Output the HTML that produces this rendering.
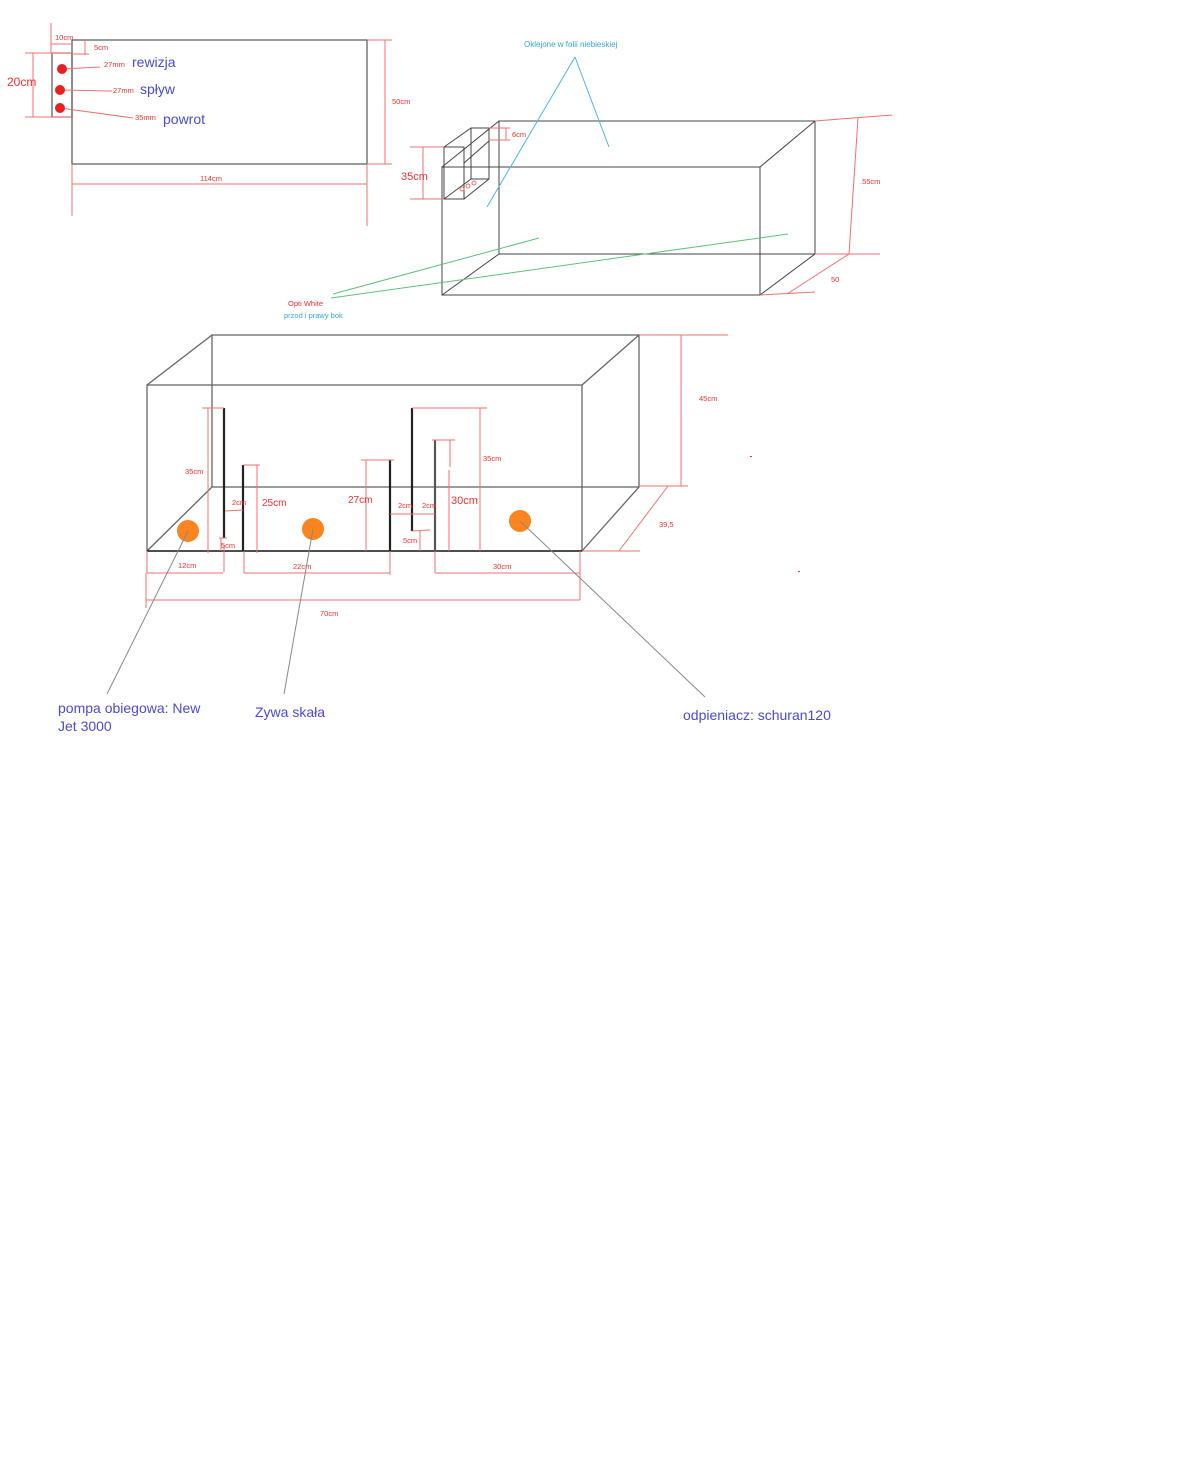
<!DOCTYPE html>
<html><head><meta charset="utf-8"><style>
html,body{margin:0;padding:0;background:#fff;}
svg{display:block;}
text{font-family:"Liberation Sans",sans-serif;}
.r{fill:#f03030;font-size:7.5px;}
.b{fill:#4a4ad8;font-size:14px;}
</style></head><body>
<svg width="1200" height="1482" viewBox="0 0 1200 1482" xmlns="http://www.w3.org/2000/svg">
<g fill="none" stroke="#555" stroke-width="1.2">
<rect x="72" y="40" width="295" height="124"/>
<rect x="52" y="53" width="20" height="64"/>
</g>
<g stroke="#f27070" stroke-width="1" fill="none">
<line x1="72" y1="164" x2="72" y2="216"/>
<line x1="367" y1="164" x2="367" y2="226"/>
<line x1="72" y1="184" x2="367" y2="184"/>
<line x1="385" y1="40" x2="385" y2="164"/>
<line x1="367" y1="40" x2="392" y2="40"/>
<line x1="367" y1="164" x2="392" y2="164"/>
<line x1="33" y1="53" x2="33" y2="117"/>
<line x1="25" y1="53" x2="72" y2="53"/>
<line x1="25" y1="117" x2="72" y2="117"/>
<line x1="51" y1="23" x2="51" y2="53"/>
<line x1="51" y1="44" x2="72" y2="44"/>
<line x1="85" y1="40" x2="85" y2="55"/>
<line x1="72" y1="54" x2="89" y2="54"/>
<line x1="62" y1="69" x2="100" y2="67"/>
<line x1="60" y1="90" x2="112" y2="91"/>
<line x1="60" y1="108" x2="133" y2="118"/>
</g>
<g fill="#e82020"><circle cx="62" cy="69" r="5"/><circle cx="60" cy="90" r="5"/><circle cx="60" cy="108" r="5"/></g>
<text class="r" x="55" y="40">10cm</text>
<text class="r" x="94" y="50">5cm</text>
<text class="r" x="7" y="86" style="font-size:12px">20cm</text>
<text class="r" x="104" y="67">27mm</text>
<text class="r" x="113" y="93">27mm</text>
<text class="r" x="135" y="120">35mm</text>
<text class="b" x="132" y="67">rewizja</text>
<text class="b" x="140" y="94">spływ</text>
<text class="b" x="163" y="124">powrot</text>
<text class="r" x="200" y="181">114cm</text>
<text class="r" x="392" y="104">50cm</text>

<g fill="none" stroke="#444" stroke-width="1">
<rect x="499" y="121" width="316" height="133"/>
<rect x="442" y="167" width="318" height="128"/>
<line x1="442" y1="167" x2="499" y2="121"/>
<line x1="760" y1="167" x2="815" y2="121"/>
<line x1="760" y1="295" x2="815" y2="254"/>
<line x1="442" y1="295" x2="499" y2="254"/>
<rect x="444" y="147" width="20" height="52"/>
<rect x="471" y="128" width="18" height="51"/>
<line x1="444" y1="147" x2="471" y2="128"/>
<line x1="464" y1="163" x2="489" y2="141"/>
<line x1="464" y1="199" x2="489" y2="179"/>
<line x1="444" y1="199" x2="471" y2="179"/>
</g>
<g stroke="#f27070" stroke-width="1" fill="none">
<line x1="489" y1="128" x2="510" y2="128"/>
<line x1="489" y1="140" x2="510" y2="140"/>
<line x1="506" y1="128" x2="506" y2="140"/>
<line x1="410" y1="147" x2="444" y2="147"/>
<line x1="410" y1="199" x2="444" y2="199"/>
<line x1="423" y1="147" x2="423" y2="199"/>
<line x1="815" y1="121" x2="892" y2="115"/>
<line x1="858" y1="118" x2="849" y2="254"/>
<line x1="815" y1="254" x2="880" y2="254"/>
<line x1="849" y1="254" x2="787" y2="294"/>
<line x1="760" y1="295" x2="815" y2="292"/>
<circle cx="462" cy="189" r="2"/><circle cx="468" cy="186" r="2"/><circle cx="474" cy="183" r="2"/>
</g>
<text class="r" x="512" y="137">6cm</text>
<text class="r" x="401" y="180" style="font-size:11px">35cm</text>
<text class="r" x="860" y="184">.55cm</text>
<text class="r" x="831" y="282">50</text>
<g stroke="#4bb8e8" stroke-width="1"><line x1="575" y1="57" x2="487" y2="207"/><line x1="575" y1="57" x2="609" y2="147"/></g>
<text x="524" y="47" style="fill:#33a6e0;font-size:8px">Oklejone w folii niebieskiej</text>
<g stroke="#5ec27a" stroke-width="1"><line x1="333" y1="294" x2="539" y2="238"/><line x1="331" y1="298" x2="788" y2="234"/></g>
<text class="r" x="288" y="306">Opti White</text>
<text x="284" y="318" style="fill:#33a6e0;font-size:7.5px">przod i prawy bok</text>

<g fill="none" stroke="#666" stroke-width="1.3">
<rect x="212" y="335" width="427" height="152"/>
<rect x="147" y="385" width="435" height="166"/>
<line x1="147" y1="385" x2="212" y2="335"/>
<line x1="582" y1="385" x2="639" y2="335"/>
<line x1="582" y1="551" x2="639" y2="487"/>
<line x1="147" y1="551" x2="212" y2="487"/>
</g>
<line x1="147" y1="551" x2="582" y2="551" stroke="#222" stroke-width="1.5"/>
<g stroke="#222" stroke-width="2.2">
<line x1="224" y1="408" x2="224" y2="538"/>
<line x1="243" y1="465" x2="243" y2="551"/>
<line x1="390" y1="460" x2="390" y2="551"/>
<line x1="412" y1="408" x2="412" y2="531"/>
<line x1="435" y1="440" x2="435" y2="551" stroke="#555"/>
</g>
<g stroke="#f27070" stroke-width="1" fill="none">
<line x1="202" y1="408" x2="224" y2="408"/><line x1="208" y1="408" x2="208" y2="553"/>
<line x1="243" y1="465" x2="260" y2="465"/><line x1="257" y1="465" x2="257" y2="553"/>
<line x1="225" y1="511" x2="243" y2="510"/>
<line x1="219" y1="538" x2="227" y2="538"/><line x1="221" y1="538" x2="221" y2="551"/>
<line x1="361" y1="460" x2="394" y2="460"/><line x1="366" y1="460" x2="366" y2="551"/>
<line x1="412" y1="408" x2="487" y2="408"/><line x1="480" y1="408" x2="480" y2="551"/>
<line x1="432" y1="440" x2="455" y2="440"/><line x1="450" y1="440" x2="450" y2="467"/><line x1="449" y1="470" x2="449" y2="551"/>
<line x1="390" y1="514" x2="435" y2="514"/>
<line x1="412" y1="531" x2="430" y2="530"/><line x1="420" y1="531" x2="420" y2="551"/>
<line x1="147" y1="551" x2="147" y2="573"/><line x1="147" y1="573" x2="223" y2="573"/><line x1="224" y1="545" x2="224" y2="572"/>
<line x1="244" y1="551" x2="244" y2="573"/><line x1="244" y1="573" x2="390" y2="573"/><line x1="390" y1="551" x2="390" y2="575"/>
<line x1="435" y1="551" x2="435" y2="573"/><line x1="435" y1="573" x2="580" y2="573"/><line x1="580" y1="551" x2="580" y2="600"/>
<line x1="146" y1="573" x2="146" y2="608"/><line x1="146" y1="600" x2="580" y2="600"/>
<line x1="639" y1="335" x2="728" y2="335"/><line x1="681" y1="335" x2="681" y2="486"/><line x1="639" y1="486" x2="688" y2="486"/>
<line x1="668" y1="486" x2="619" y2="551"/><line x1="582" y1="551" x2="640" y2="551"/>
</g>
<text class="r" x="185" y="474">35cm</text>
<text class="r" x="232" y="505">2cm</text>
<text class="r" x="262" y="506" style="font-size:10px">25cm</text>
<text class="r" x="221" y="548">5cm</text>
<text class="r" x="348" y="503" style="font-size:10px">27cm</text>
<text class="r" x="398" y="508">2cm</text>
<text class="r" x="422" y="508">2cm</text>
<text class="r" x="451" y="504" style="font-size:11px">30cm</text>
<text class="r" x="483" y="461">35cm</text>
<text class="r" x="403" y="543">5cm</text>
<text class="r" x="178" y="568">12cm</text>
<text class="r" x="293" y="569">22cm</text>
<text class="r" x="493" y="569">30cm</text>
<text class="r" x="320" y="616">70cm</text>
<text class="r" x="699" y="401">45cm</text>
<text class="r" x="659" y="527">39,5</text>
<rect x="750" y="456" width="2" height="1" fill="#f03030"/>
<rect x="798" y="571" width="2" height="1" fill="#f03030"/>
<g fill="#f98420"><circle cx="188" cy="531" r="11"/><circle cx="313" cy="529" r="11"/><circle cx="520" cy="521" r="11"/></g>
<g stroke="#888" stroke-width="1"><line x1="188" y1="531" x2="107" y2="694"/><line x1="313" y1="529" x2="284" y2="694"/><line x1="520" y1="521" x2="705" y2="697"/></g>
<text class="b" x="58" y="713">pompa obiegowa: New</text>
<text class="b" x="58" y="731">Jet 3000</text>
<text class="b" x="255" y="717">Zywa skała</text>
<text class="b" x="683" y="720">odpieniacz: schuran120</text>
</svg>
</body></html>
